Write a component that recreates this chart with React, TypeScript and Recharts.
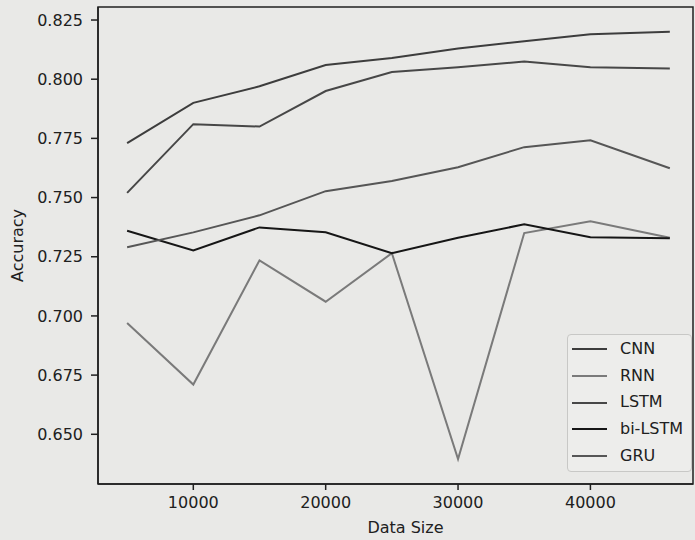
import { LineChart, Line, XAxis, YAxis, Legend, ReferenceArea } from "recharts"

const sizes = [5000, 10000, 15000, 20000, 25000, 30000, 35000, 40000, 46000]
const cnn = [0.773, 0.79, 0.797, 0.806, 0.809, 0.813, 0.816, 0.819, 0.82]
const rnn = [0.697, 0.671, 0.7235, 0.706, 0.7265, 0.6395, 0.735, 0.74, 0.733]
const lstm = [0.752, 0.781, 0.78, 0.795, 0.803, 0.805, 0.8075, 0.805, 0.8045]
const biLstm = [0.736, 0.7277, 0.7374, 0.7353, 0.7265, 0.733, 0.7387, 0.7332, 0.7328]
const gru = [0.729, 0.7353, 0.7425, 0.7527, 0.757, 0.7628, 0.7713, 0.7742, 0.7624]

const xTicks = [10000, 20000, 30000, 40000]
const yTicks = [0.65, 0.675, 0.7, 0.725, 0.75, 0.775, 0.8, 0.825]

const series = [
  { key: "cnn", name: "CNN", color: "#3d3d3d" },
  { key: "rnn", name: "RNN", color: "#7a7a7a" },
  { key: "lstm", name: "LSTM", color: "#474747" },
  { key: "biLstm", name: "bi-LSTM", color: "#161616" },
  { key: "gru", name: "GRU", color: "#565656" },
]

const data = sizes.map((size, i) => ({
  size,
  cnn: cnn[i],
  rnn: rnn[i],
  lstm: lstm[i],
  biLstm: biLstm[i],
  gru: gru[i],
}))

const font = "'DejaVu Sans', sans-serif"
const ink = "#202020"
const xDomain = [2800, 47750]
const yDomain = [0.629, 0.8305]

function LegendBox() {
  return (
    <div
      style={{
        boxSizing: "border-box",
        width: 125,
        height: 138,
        background: "#ededeb",
        border: "1px solid #c8c8c6",
        borderRadius: 4,
        paddingTop: 1,
        paddingLeft: 4,
        fontFamily: font,
        fontSize: 16,
        color: ink,
      }}
    >
      {series.map((s) => (
        <div key={s.key} style={{ height: 26.7, lineHeight: "26.7px", display: "flex", alignItems: "center" }}>
          <span style={{ display: "inline-block", width: 35, height: 2, background: s.color, marginRight: 13 }} />
          <span>{s.name}</span>
        </div>
      ))}
    </div>
  )
}

export default function App() {
  return (
    <div style={{ position: "absolute", left: 0, top: 0, width: 695, height: 540, background: "#e9e9e7" }}>
      <LineChart
        width={695}
        height={540}
        data={data}
        margin={{ top: 7, right: 2, left: 0, bottom: 0 }}
        style={{ fontFamily: font }}
      >
        <ReferenceArea
          x1={xDomain[0]}
          x2={xDomain[1]}
          y1={yDomain[0]}
          y2={yDomain[1]}
          fill="none"
          stroke={ink}
          strokeWidth={1.5}
          ifOverflow="visible"
        />
        <XAxis
          dataKey="size"
          type="number"
          domain={xDomain}
          ticks={xTicks}
          allowDataOverflow
          height={56}
          stroke={ink}
          strokeWidth={1.5}
          tickSize={6}
          tickMargin={7}
          tick={{ fill: ink, fontSize: 16, fontFamily: font }}
          label={{
            content: (props: any) => {
              const vb = props.viewBox
              return (
                <text x={vb.x + vb.width / 2 + 10} y={533} textAnchor="middle" fill={ink} fontSize={16} fontFamily={font}>
                  Data Size
                </text>
              )
            },
          }}
        />
        <YAxis
          type="number"
          domain={yDomain}
          ticks={yTicks}
          allowDataOverflow
          width={98}
          stroke={ink}
          strokeWidth={1.5}
          tickSize={7}
          tickMargin={8}
          tickFormatter={(v: number) => v.toFixed(3)}
          tick={{ fill: ink, fontSize: 16, fontFamily: font }}
          label={{
            content: (props: any) => {
              const vb = props.viewBox
              const cx = 17
              const cy = vb.y + vb.height / 2
              return (
                <text
                  x={cx}
                  y={cy}
                  transform={`rotate(-90 ${cx} ${cy})`}
                  textAnchor="middle"
                  dominantBaseline="central"
                  fill={ink}
                  fontSize={16}
                  fontFamily={font}
                >
                  Accuracy
                </text>
              )
            },
          }}
        />
        {series.map((s) => (
          <Line
            key={s.key}
            type="linear"
            dataKey={s.key}
            name={s.name}
            stroke={s.color}
            strokeWidth={2}
            dot={false}
            isAnimationActive={false}
          />
        ))}
        <Legend
          layout="vertical"
          align="center"
          verticalAlign="middle"
          content={() => <LegendBox />}
          wrapperStyle={{ left: 567, top: 334, width: 125, height: 138 }}
        />
      </LineChart>
    </div>
  )
}
